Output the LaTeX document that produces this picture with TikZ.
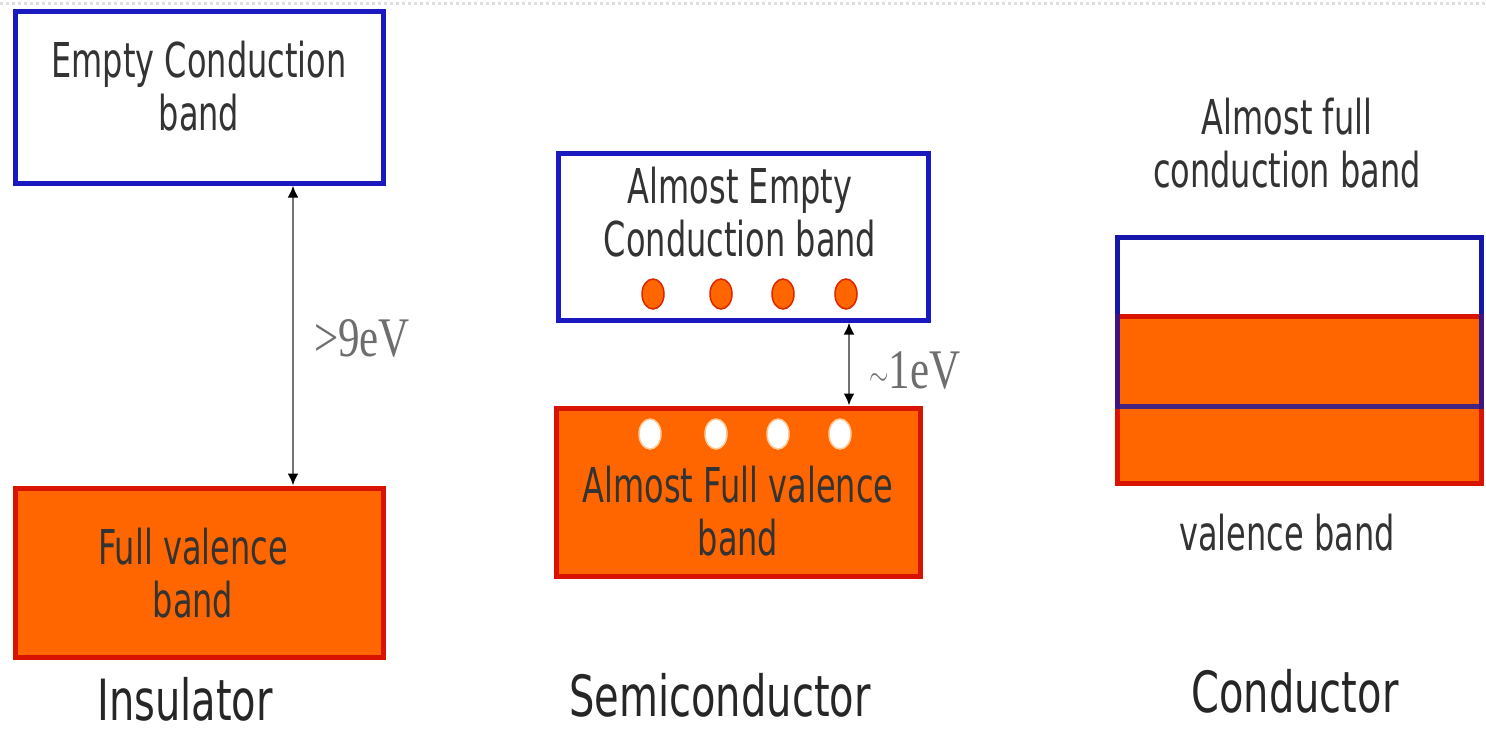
\documentclass[tikz,border=0pt]{standalone}
\usepackage{fontspec}
\setmainfont{DejaVu Sans}
\newfontfamily\serf{Liberation Serif}
\usetikzlibrary{arrows.meta,shapes.geometric}
\definecolor{bandorange}{HTML}{FF6600}
\definecolor{bandred}{HTML}{D81400}
\definecolor{bandblue}{HTML}{1A1AC0}
\definecolor{txtgray}{HTML}{333333}
\definecolor{evgray}{HTML}{6E6E6E}
\tikzset{
  condband/.style={draw=bandblue, line width=5pt, fill=white, rectangle, inner sep=0pt},
  valband/.style={draw=bandred, line width=5pt, fill=bandorange, rectangle, inner sep=0pt},
  bandtext/.style={align=center, text=txtgray, font=\fontsize{32}{35}\selectfont, yscale=1.5, inner sep=0pt},
  capt/.style={text=black!85, font=\fontsize{40}{44}\selectfont, yscale=1.42, inner sep=0pt},
  evtext/.style={text=evgray, font=\serf\fontsize{43}{46}\selectfont, yscale=1.3, inner sep=0pt},
  gap/.style={draw=black!55, line width=2.5pt, {Latex[length=12pt,width=11pt,color=black]}-{Latex[length=12pt,width=11pt,color=black]}},
  electron/.style={ellipse, draw=bandred!80!bandorange, line width=1.5pt, fill=bandorange, minimum width=22pt, minimum height=30pt, inner sep=0pt},
  hole/.style={ellipse, draw=orange!40, line width=1.5pt, fill=white, minimum width=22pt, minimum height=30pt, inner sep=0pt}
}
\begin{document}
\begin{tikzpicture}[x=1pt,y=-1pt]
\useasboundingbox[fill=white] (0,0) rectangle (1486,732);
% faint dotted top edge
\draw[black!12, line width=3pt, dash pattern=on 3pt off 3pt] (0,3) -- (1486,3);

% ---------- Insulator ----------
\node[condband, minimum width=368pt, minimum height=172pt] (ic) at (199,97) {};
\node[valband, minimum width=368pt, minimum height=169pt] (iv) at (199,572.5) {};
\node[bandtext] (ict) at (199,86) {Empty Conduction\\band};
\node[bandtext] (ivt) at (193,573) {Full valence\\band};
\coordinate (ia) at (293,0);
\draw[gap] (ia |- ic.south) -- (ia |- iv.north);
\node[evtext] (ie) at (362,338) {>9eV};
\node[capt] (il) at (185,699) {Insulator};

% ---------- Semiconductor ----------
\node[condband, minimum width=370pt, minimum height=167pt] (sc) at (743,236.5) {};
\node[valband, minimum width=364pt, minimum height=168pt] (sv) at (738,492) {};
\node[bandtext] (sct) at (740,212) {Almost Empty\\Conduction band};
\node[bandtext] (svt) at (738,511) {Almost Full valence\\band};
\node[electron] (e1) at (653,294) {};
\node[electron] (e2) at (721,294) {};
\node[electron] (e3) at (783,294) {};
\node[electron] (e4) at (846,294) {};
\node[hole] (h1) at (650,434) {};
\node[hole] (h2) at (716,434) {};
\node[hole] (h3) at (778,434) {};
\node[hole] (h4) at (840,434) {};
\coordinate (sa) at (849,0);
\draw[gap] (sa |- sc.south) -- (sa |- sv.north);
\node[evtext] (se) at (915,370) {\raisebox{0.05em}{$\sim$}1eV};
\node[capt] (sl) at (720,695) {Semiconductor};

% ---------- Conductor ----------
\node[condband, minimum width=364pt, minimum height=169pt] (cc) at (1299,321.5) {};
\node[valband, minimum width=364pt, minimum height=167pt] (cv) at (1299,399.5) {};
\node[rectangle, draw=bandblue!85!black, draw opacity=0.8, line width=5pt, inner sep=0pt, minimum width=364pt, minimum height=169pt] (cco) at (1299,321.5) {};
\node[bandtext] (cct) at (1287,143) {Almost full\\conduction band};
\node[bandtext] (cvt) at (1287,533) {valence band};
\node[capt] (cl) at (1295,691) {Conductor};
\end{tikzpicture}
\end{document}
